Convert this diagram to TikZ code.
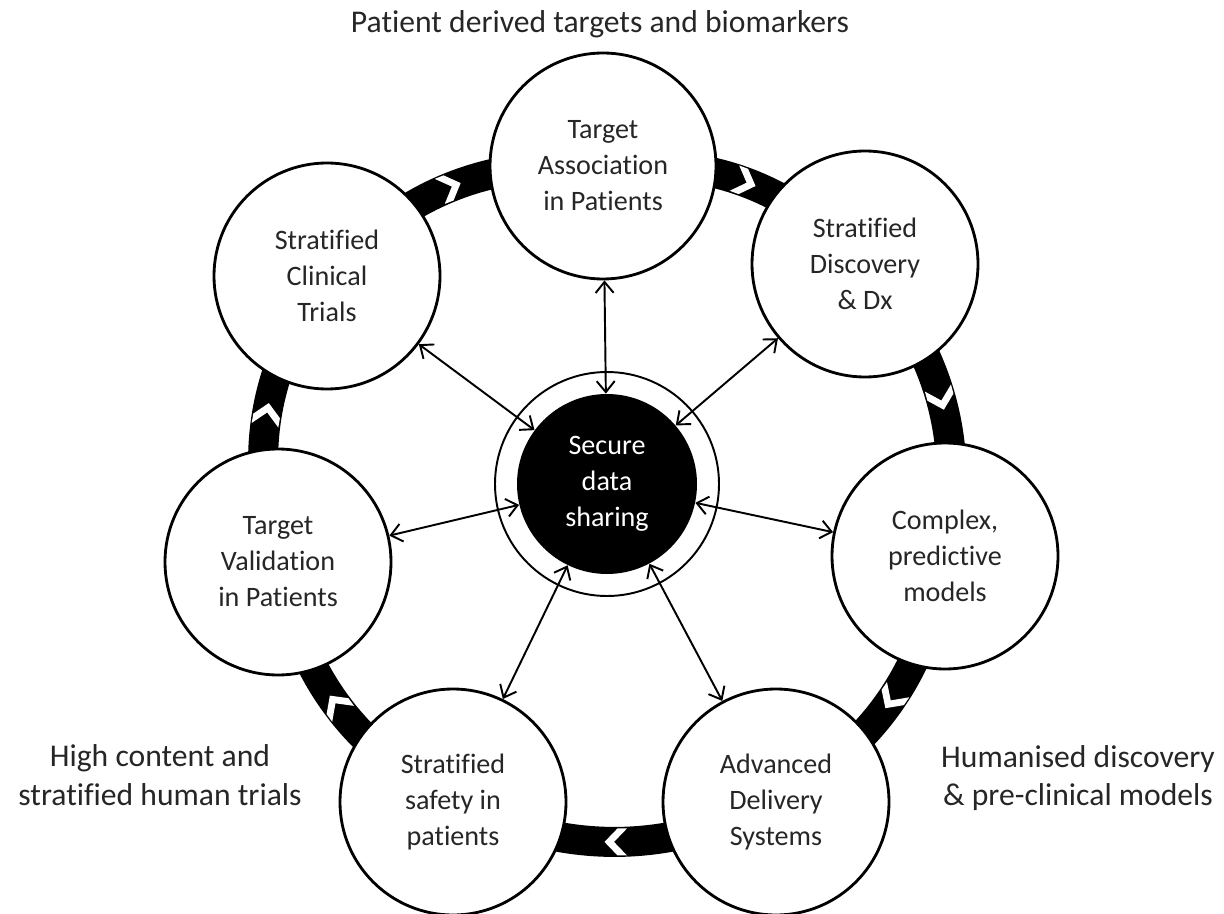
\documentclass[tikz,border=0pt]{standalone}
\usepackage{fontspec}
\setmainfont{Carlito}[Ligatures=CommonOff]
\usepackage{tikz}
\usetikzlibrary{arrows.meta,backgrounds,decorations.markings}

\tikzset{
  stage/.style={circle,draw,line width=1.6pt,fill=white,minimum size=4.52cm,align=center,
    text=black!85,font=\fontsize{16}{20.5}\selectfont},
  hub/.style={circle,fill=black,minimum size=3.6cm,align=center,text=white,
    font=\fontsize{16}{20.5}\selectfont},
  link/.style={<->,line width=1.1pt},
  band/.style={line width=0.6cm,
    postaction={decorate,decoration={markings,mark=at position 0.5 with {
      \fill[white] (-0.06,0.27) -- (0.2,0) -- (-0.06,-0.27) -- (-0.25,-0.27) -- (0.01,0) -- (-0.25,0.27) -- cycle;}}}},
  outer/.style={align=center,text=black!85,font=\fontsize{18}{22}\selectfont}
}

\begin{document}
\begin{tikzpicture}[>={Straight Barb[length=2.2mm,width=3.6mm]}]
  \useasboundingbox (0,0) rectangle (24.48,18.26);

  % central hub with its thin ring
  \node[hub] (hub) at (12.14,8.58) {Secure\\data\\sharing};
  \draw[line width=1.1pt] (hub.center) circle (2.24);

  % the seven stages round the hub
  \node[stage] (assoc) at (12.06,14.94) {Target\\Association\\in Patients};
  \node[stage] (disc) at (17.30,12.98) {Stratified\\Discovery\\\& Dx};
  \node[stage] (cplx) at (18.90,7.14) {Complex,\\predictive\\models};
  \node[stage] (adv) at (15.52,2.22) {Advanced\\Delivery\\Systems};
  \node[stage] (safe) at (9.06,2.22) {Stratified\\safety in\\patients};
  \node[stage] (valid) at (5.56,7.02) {Target\\Validation\\in Patients};
  \node[stage] (clin) at (6.54,12.74) {Stratified\\Clinical\\Trials};

  % black cycle band with chevrons, behind the stages
  \begin{scope}[on background layer]
    \foreach \a/\b in {assoc/disc,disc/cplx,cplx/adv,adv/safe,safe/valid,valid/clin,clin/assoc}
      \draw[band] (\a.center) to[bend left=25] (\b.center);
  \end{scope}

  % data links
  \foreach \s in {assoc,disc,cplx,adv,safe,valid,clin}
    \draw[link] (hub) -- (\s);

  % labels outside the cycle
  \node[outer] (toplabel) at (12.0,17.77) {Patient derived targets and biomarkers};
  \node[outer] (leftlabel) at (3.2,2.76) {High content and\\stratified human trials};
  \node[outer] (rightlabel) at (21.56,2.70) {Humanised discovery\\\& pre-clinical models};
\end{tikzpicture}
\end{document}
